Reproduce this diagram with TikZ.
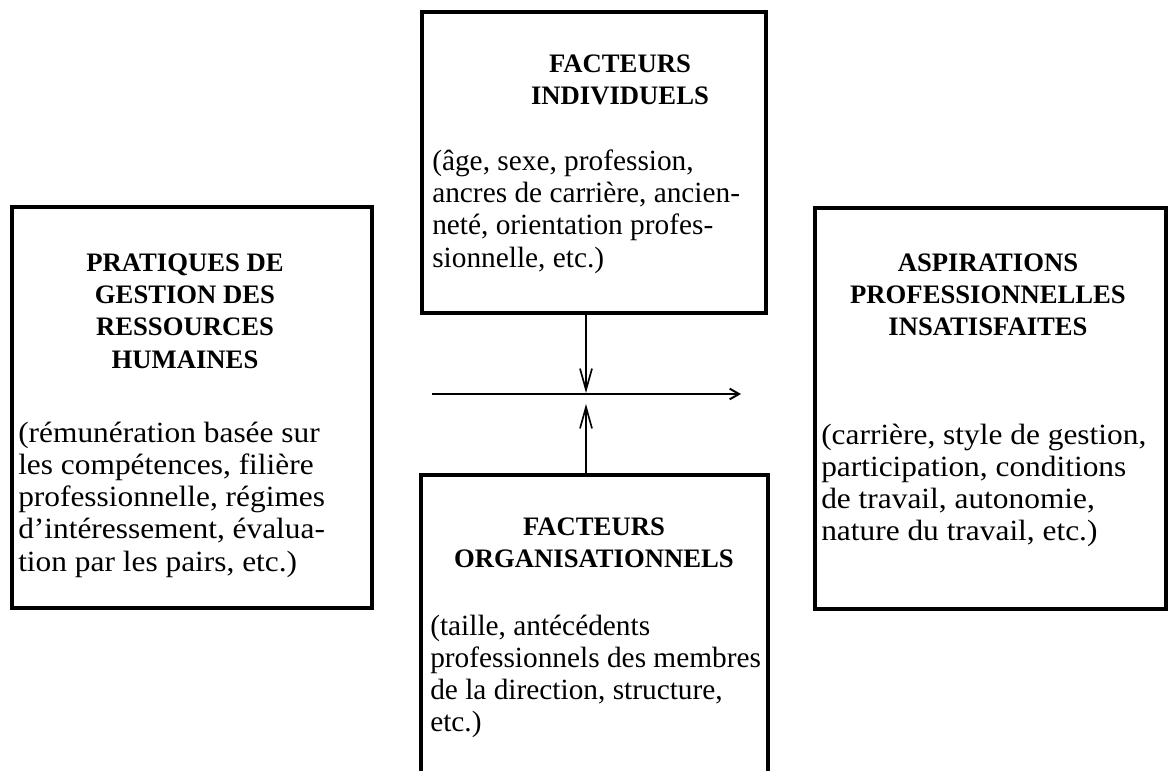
\documentclass[tikz,border=0pt]{standalone}
\usepackage{fontspec}
\setmainfont{Liberation Serif}
\usetikzlibrary{arrows.meta}
\begin{document}
\begin{tikzpicture}[x=0.75pt,y=-0.75pt,
  box/.style={draw=black, line width=3pt, inner sep=0pt},
  conn/.style={draw=black, line width=1.25pt},
  vtip/.style={-{Straight Barb[length=16pt,width=9pt,line width=1.25pt]}},
  htip/.style={-{Straight Barb[length=7pt,width=8pt,line width=1.5pt]}},
  head/.style={inner sep=0pt, align=center, font=\fontsize{20}{24.2}\selectfont\bfseries},
  body/.style={inner sep=0pt, align=left, font=\fontsize{22}{24.2}\selectfont},
  wbody/.style={body, font=\fontsize{22}{24.2}\selectfont\addfontfeature{FakeStretch=1.07}}]
\clip (0,0) rectangle (1171,771);
\fill[white] (0,0) rectangle (1171,771);
% boxes
\node[box, minimum width=258pt, minimum height=225.75pt] (top) at (594,162.5) {};
\node[box, minimum width=270pt, minimum height=300.75pt] (left) at (192,407.5) {};
\node[box, minimum width=263.25pt, minimum height=300.75pt] (right) at (990.5,408.5) {};
\node[box, minimum width=260.25pt, minimum height=243.75pt] (bot) at (594.5,637.5) {};
% texts
\node[head, anchor=north] (topH) at (620,54.4) {FACTEURS\\INDIVIDUELS};
\node[body, anchor=north west] (topB) at (432,149.4) {(âge, sexe, profession,\\ancres de carrière, ancien-\\neté, orientation profes-\\sionnelle, etc.)};
\node[head, anchor=north] (leftH) at (185,253.4) {PRATIQUES DE\\GESTION DES\\RESSOURCES\\HUMAINES};
\node[wbody, anchor=north west] (leftB) at (18,421.4) {(rémunération basée sur\\les compétences, filière\\professionnelle, régimes\\d'intéressement, évalua-\\tion par les pairs, etc.)};
\node[head, anchor=north] (rightH) at (988,253.4) {ASPIRATIONS\\PROFESSIONNELLES\\INSATISFAITES};
\node[wbody, anchor=north west] (rightB) at (821,423.4) {(carrière, style de gestion,\\participation, conditions\\de travail, autonomie,\\nature du travail, etc.)};
\node[head, anchor=north] (botH) at (594,517.4) {FACTEURS\\ORGANISATIONNELS};
\node[body, anchor=north west] (botB) at (430,614.4) {(taille, antécédents\\professionnels des membres\\de la direction, structure,\\etc.)};
% connectors
\coordinate (hl) at (432,394);
\coordinate (hr) at (741,394);
\coordinate (meetdown) at (586,393);
\coordinate (meetup) at (586,404);
\draw[conn, htip] (hl) -- (hr);
\draw[conn, vtip] (top.south -| meetdown) -- (meetdown);
\draw[conn, vtip] (bot.north -| meetup) -- (meetup);
\end{tikzpicture}
\end{document}
